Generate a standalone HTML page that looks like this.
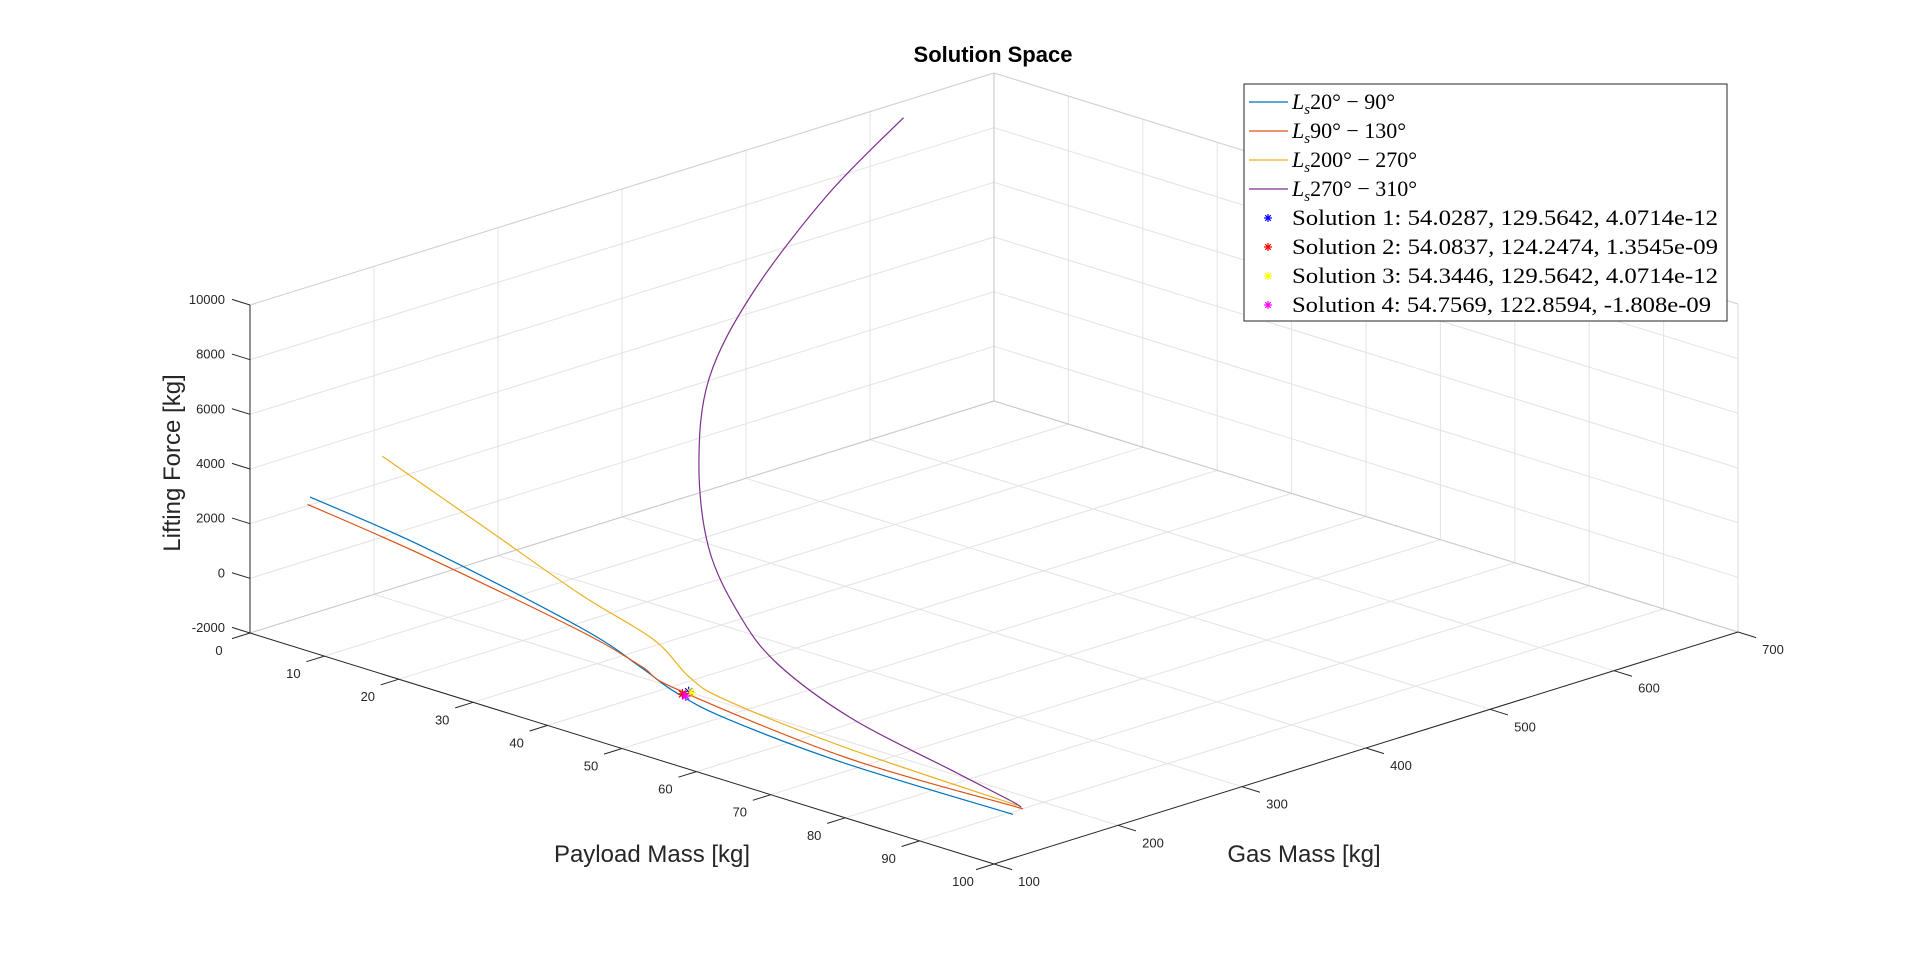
<!DOCTYPE html>
<html>
<head>
<meta charset="utf-8">
<style>
html,body{margin:0;padding:0;background:#fff;}
svg{display:block;}
.tick{font-family:"Liberation Sans",sans-serif;font-size:13px;fill:#262626;}
.axlab{font-family:"Liberation Sans",sans-serif;font-size:24px;fill:#262626;}
.leg{font-family:"Liberation Serif",serif;font-size:22px;fill:#000;}
</style>
</head>
<body>
<svg id="chart" width="1920" height="973" viewBox="0 0 1920 973">
  <rect width="1920" height="973" fill="#fff"/>
  <g id="grid"></g>
  <g id="axes"></g>
  <g id="series"></g>
  <g id="markers"></g>
  <text x="993" y="62" text-anchor="middle" font-family="Liberation Sans, sans-serif" font-weight="bold" font-size="22" fill="#000">Solution Space</text>
  <text class="axlab" x="652" y="862" text-anchor="middle">Payload Mass [kg]</text>
  <text class="axlab" x="1304" y="862" text-anchor="middle">Gas Mass [kg]</text>
  <text class="axlab" x="0" y="0" text-anchor="middle" font-size="25" transform="translate(180,463) rotate(-90)">Lifting Force [kg]</text>
  <g id="legend">
    <rect x="1244" y="84" width="483" height="237" fill="#fff" stroke="#262626" stroke-width="1"/>
  </g>
</svg>
<script>
// axis ranges / ticks
const payloadTicks = [0,10,20,30,40,50,60,70,80,90,100];
const gasTicks = [100,200,300,400,500,600,700];
const liftTicks = [-2000,0,2000,4000,6000,8000,10000];
// series data
const seriesNames = ["Ls20-90","Ls90-130","Ls200-270","Ls270-310"];
const s1Payload = [7.4,21.5,40.8,48.2,52.3,58.6,73.4,94.0];
const s1Lift = [3540,2781,1317,433,-134,-621,-1143,-1420];
const s2Payload = [7.1,21.5,40.8,48.2,52.6,73.4,95.2];
const s2Lift = [3250,2471,1186,478,-22,-919,-1121];
const s3Payload = [16.3,28.9,40.8,49.7,54.1,58.6,73.4,94.5];
const s3Lift = [5720,4084,2526,1579,544,52,-562,-1050];
const s4Payload = [80.5,71.2,62.0,56.6,55.3,56.5,60.3,65.0,74.2,86.4,93.5,95.0];
const s4Lift = [23031,19514,15237,11700,8480,5450,3288,1858,554,-386,-927,-1076];
const gasPerPayload = 0.547;
const solPayload = [54.0287,54.0837,54.3446,54.7569];
const solGas = [129.5642,124.2474,129.5642,122.8594];
const solLift = [4.0714e-12,1.3545e-09,4.0714e-12,-1.808e-09];
const solLabels = ["Solution 1: 54.0287, 129.5642, 4.0714e-12","Solution 2: 54.0837, 124.2474, 1.3545e-09","Solution 3: 54.3446, 129.5642, 4.0714e-12","Solution 4: 54.7569, 122.8594, -1.808e-09"];
const legendSeries = [["20°","90°"],["90°","130°"],["200°","270°"],["270°","310°"]];

const colors = ["#0072BD","#D95319","#EDB120","#7E2F8E"];
const solColors = ["#0000ff","#ff0000","#ffff00","#ff00ff"];
const NS = "http://www.w3.org/2000/svg";
// projection
const O = [250,633], P = [744,231], G = [744,-232], Zh = 328;
function proj(p,g,l){
  const a = p/100, b = (g-100)/600, c = (l+2000)/12000;
  return [O[0]+a*P[0]+b*G[0], O[1]+a*P[1]+b*G[1]-c*Zh];
}
function mk(tag, attrs, parent){
  const e = document.createElementNS(NS, tag);
  for (const k in attrs) e.setAttribute(k, attrs[k]);
  parent.appendChild(e); return e;
}
const grid = document.getElementById('grid');
const axes = document.getElementById('axes');
function line(a,b,stroke,parent,w){
  return mk('line',{x1:a[0],y1:a[1],x2:b[0],y2:b[1],stroke:stroke,'stroke-width':w||1},parent);
}
const gc = "#e3e3e3";
payloadTicks.forEach(p=>{ const l=line(proj(p,100,-2000),proj(p,700,-2000),gc,grid);
  
   });
gasTicks.forEach(g=>{ const l=line(proj(0,g,-2000),proj(100,g,-2000),gc,grid);
  
   });
gasTicks.forEach(g=>{ const l=line(proj(0,g,-2000),proj(0,g,10000),gc,grid);
  
   });
liftTicks.forEach(z=>{ const l=line(proj(0,100,z),proj(0,700,z),gc,grid);
  
   });
payloadTicks.forEach(p=>{ const l=line(proj(p,700,-2000),proj(p,700,10000),gc,grid);
  
   });
liftTicks.forEach(z=>{ const l=line(proj(0,700,z),proj(100,700,z),gc,grid);
  
   });
line(proj(0,700,-2000),proj(0,700,10000),"#c4c4c4",grid);
line(proj(0,100,10000),proj(0,700,10000),"#d0d0d0",grid);
line(proj(0,700,10000),proj(100,700,10000),"#d0d0d0",grid);
line(proj(100,700,-2000),proj(100,700,10000),"#d8d8d8",grid);
line(proj(0,700,-2000),proj(100,700,-2000),"#c8c8c8",grid);
line(proj(0,700,-2000),proj(0,100,-2000),"#c8c8c8",grid);
const ax = "#262626";
const za = line(proj(0,100,-2000),proj(0,100,10000),ax,axes);


const pa = line(proj(0,100,-2000),proj(100,100,-2000),ax,axes);


const ga = line(proj(100,100,-2000),proj(100,700,-2000),ax,axes);


function txt(x,y,s,anchor,parent,cls){
  const t = mk('text',{x:x,y:y,'text-anchor':anchor,'class':cls||'tick'},parent);
  t.textContent = s; return t;
}
liftTicks.forEach(z=>{
  const a = proj(0,100,z);
  line(a,[a[0]-18,a[1]-5.6],ax,axes);
  const t = txt(a[0]-25,a[1]-1,String(z),'end',axes);
  
  
});
payloadTicks.forEach(p=>{
  const a = proj(p,100,-2000);
  line(a,[a[0]-18,a[1]+5.6],ax,axes);
  const t = txt(a[0]-31,a[1]+22,String(p),'middle',axes);
  
  
});
gasTicks.forEach(g=>{
  const a = proj(100,g,-2000);
  line(a,[a[0]+18,a[1]+5.6],ax,axes);
  const t = txt(a[0]+35,a[1]+22,String(g),'middle',axes);
  
  
});
function smoothPath(pts){
  let d = "M"+pts[0][0].toFixed(1)+","+pts[0][1].toFixed(1);
  for (let i=0;i<pts.length-1;i++){
    const p0=pts[Math.max(0,i-1)], p1=pts[i], p2=pts[i+1], p3=pts[Math.min(pts.length-1,i+2)];
    const c1=[p1[0]+(p2[0]-p0[0])/6, p1[1]+(p2[1]-p0[1])/6];
    const c2=[p2[0]-(p3[0]-p1[0])/6, p2[1]-(p3[1]-p1[1])/6];
    d += " C"+c1[0].toFixed(1)+","+c1[1].toFixed(1)+" "+c2[0].toFixed(1)+","+c2[1].toFixed(1)+" "+p2[0].toFixed(1)+","+p2[1].toFixed(1);
  }
  return d;
}
const series = document.getElementById('series');
const allP = [s1Payload,s2Payload,s3Payload,s4Payload];
const allL = [s1Lift,s2Lift,s3Lift,s4Lift];
allP.forEach((pa,i)=>{
  const pts = pa.map((p,j)=>proj(p,100+gasPerPayload*p,allL[i][j]));
  const path = mk('path',{d:smoothPath(pts),fill:'none',stroke:colors[i],'stroke-width':1.2},series);
  
  
});
const markers = document.getElementById('markers');
function star(c,color,parent,r){
  r = r||5;
  const g = mk('g',{stroke:color,'stroke-width':1.2},parent);
  line([c[0]-r,c[1]],[c[0]+r,c[1]],color,g,1.2);
  line([c[0],c[1]-r],[c[0],c[1]+r],color,g,1.2);
  line([c[0]-r*0.7,c[1]-r*0.7],[c[0]+r*0.7,c[1]+r*0.7],color,g,1.2);
  line([c[0]-r*0.7,c[1]+r*0.7],[c[0]+r*0.7,c[1]-r*0.7],color,g,1.2);
  return g;
}
solPayload.forEach((p,i)=>{
  const g = star(proj(p,solGas[i],solLift[i]),solColors[i],markers,5);
  
  
});
const legend = document.getElementById('legend');
const rowY0 = 102, rowH = 29;
legendSeries.forEach((s,i)=>{
  const y = rowY0 + i*rowH;
  const g = mk('g',{},legend);
  
  
  line([1249,y],[1288,y],colors[i],g,1.2);
  const t = mk('text',{x:1292,y:y+7,'class':'leg'},g);
  const a = mk('tspan',{'font-style':'italic'},t); a.textContent = 'L';
  const b = mk('tspan',{'font-style':'italic','font-size':'15','dy':'5'},t); b.textContent = 's';
  const c = mk('tspan',{'dy':'-5'},t); c.textContent = s[0]+' − '+s[1];
});
solLabels.forEach((s,i)=>{
  const y = rowY0 + (i+4)*rowH;
  const g = mk('g',{},legend);
  
  
  star([1268,y],solColors[i],g,4);
  const t = mk('text',{x:1292,y:y+7,'class':'leg',textLength:(i==3?419:426),lengthAdjust:'spacingAndGlyphs'},g);
  t.textContent = s;
});
</script>
</body>
</html>
